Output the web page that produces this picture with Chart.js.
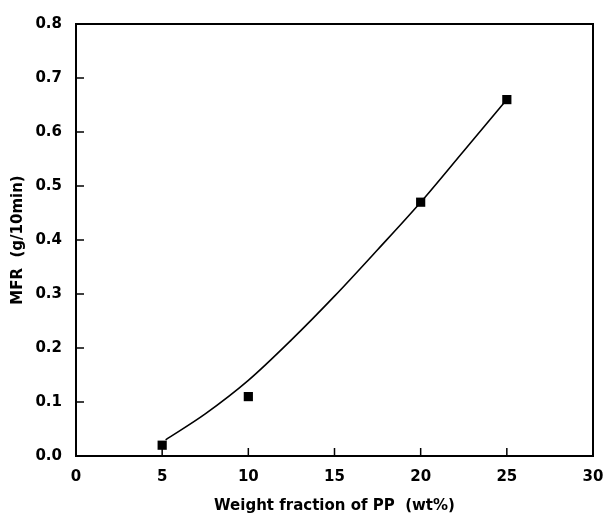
<!DOCTYPE html>
<html>
<head>
<meta charset="utf-8">
<script src="https://cdn.jsdelivr.net/npm/chart.js@4/dist/chart.umd.min.js"></script>
<style>
  html, body { margin: 0; padding: 0; background: #fff; }
  #box { width: 607px; height: 517px; }
</style>
</head>
<body>
<div id="box"><canvas id="graficoMFR"></canvas></div>
<script>
// measured points
var fracaoPP = [5, 10, 20, 25];
var valoresMFR = [0.02, 0.11, 0.47, 0.66];

// fitted curve
var curvaX = [5.2, 7.5, 10, 12.5, 15, 17.5, 20, 22.5, 25];
var curvaY = [0.03, 0.078, 0.14, 0.215, 0.296, 0.382, 0.47, 0.565, 0.66];

var tituloX = 'Weight fraction of PP  (wt%)';
var tituloY = 'MFR  (g/10min)';

var fonte = { family: '"DejaVu Sans", sans-serif', size: 15, weight: 'bold' };

// frame + inward tick marks
var moldura = {
  id: 'moldura',
  afterDraw: function(chart) {
    var ctx = chart.ctx, a = chart.chartArea;
    var sx = chart.scales.x, sy = chart.scales.y;
    ctx.save();
    ctx.strokeStyle = '#000';
    ctx.lineWidth = 2;
    ctx.strokeRect(a.left, a.top, a.right - a.left, a.bottom - a.top);
    ctx.lineWidth = 1.5;
    ctx.beginPath();
    sx.ticks.forEach(function(t) {
      var px = sx.getPixelForValue(t.value);
      ctx.moveTo(px, a.bottom);
      ctx.lineTo(px, a.bottom - 8);
    });
    sy.ticks.forEach(function(t) {
      var py = sy.getPixelForValue(t.value);
      ctx.moveTo(a.left, py);
      ctx.lineTo(a.left + 8, py);
    });
    ctx.stroke();
    ctx.restore();
  }
};

var grafico = new Chart(document.getElementById('graficoMFR').getContext('2d'), {
  type: 'scatter',
  data: {
    datasets: [{
      label: 'fit',
      type: 'line',
      data: curvaX.map(function(x, i) { return { x: x, y: curvaY[i] }; }),
      borderColor: '#000',
      borderWidth: 1.6,
      pointRadius: 0,
      cubicInterpolationMode: 'monotone',
      fill: false
    }, {
      label: 'MFR',
      data: fracaoPP.map(function(x, i) { return { x: x, y: valoresMFR[i] }; }),
      pointStyle: 'rect',
      pointRadius: 6.5,
      backgroundColor: '#000',
      borderColor: '#000',
      borderWidth: 0
    }]
  },
  options: {
    responsive: true,
    maintainAspectRatio: false,
    animation: false,
    layout: { padding: { left: 0, right: 14, top: 24, bottom: 0 } },
    plugins: { legend: { display: false }, tooltip: { enabled: false } },
    scales: {
      x: {
        type: 'linear',
        min: 0, max: 30,
        grid: { display: false, drawTicks: false },
        border: { display: false },
        ticks: { stepSize: 5, color: '#000', font: fonte, padding: 12 },
        title: { display: true, text: tituloX, color: '#000', font: fonte, padding: { top: 0, bottom: 2 } },
        afterFit: function(s) { s.height = 61; s.paddingLeft = 0; s.paddingRight = 0; }
      },
      y: {
        min: 0, max: 0.8,
        grid: { display: false, drawTicks: false },
        border: { display: false },
        ticks: {
          stepSize: 0.1, color: '#000', font: fonte, padding: 14,
          callback: function(v) { return v.toFixed(1); }
        },
        title: { display: true, text: tituloY, color: '#000', font: fonte, padding: { top: 9, bottom: 0 } },
        afterFit: function(s) { s.width = 76; s.paddingTop = 0; s.paddingBottom = 0; }
      }
    }
  },
  plugins: [moldura]
});
</script>
</body>
</html>
